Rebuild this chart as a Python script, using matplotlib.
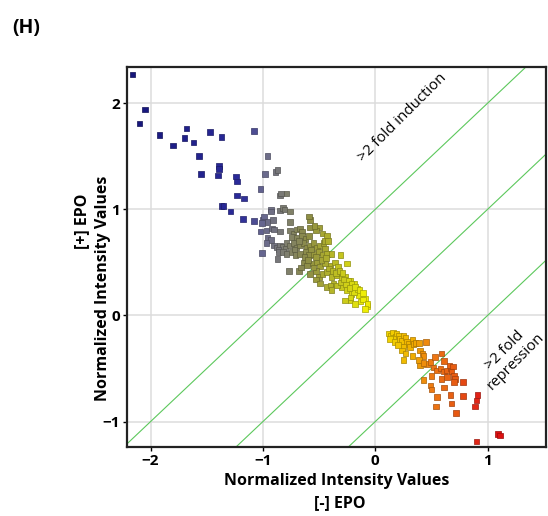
import numpy as np
import matplotlib
matplotlib.use("Agg")
import matplotlib.pyplot as plt
from matplotlib.colors import LinearSegmentedColormap, Normalize

plt.rcParams['font.family'] = ['Open Sans', 'DejaVu Sans']

# grupos de puntos (x = [-] EPO, y = [+] EPO)
azul = [(-2.16, 2.27), (-2.05, 1.94), (-2.10, 1.81), (-1.92, 1.70), (-1.80, 1.60), (-1.68, 1.76),
        (-1.70, 1.67), (-1.62, 1.63), (-1.57, 1.50), (-1.55, 1.33), (-1.47, 1.73), (-1.37, 1.68),
        (-1.39, 1.41), (-1.39, 1.38), (-1.40, 1.32), (-1.24, 1.31), (-1.23, 1.26), (-1.23, 1.13),
        (-1.17, 1.10), (-1.37, 1.03), (-1.35, 1.03), (-1.29, 0.98), (-1.18, 0.91), (-1.08, 0.89)]

gris = [(-1.08, 1.74), (-0.96, 1.50), (-0.98, 1.33), (-0.89, 1.35), (-0.87, 1.37), (-1.02, 1.19),
        (-0.85, 1.13), (-0.84, 1.15), (-0.79, 1.15), (-0.93, 1.00), (-0.93, 0.98), (-0.85, 0.99),
        (-0.82, 1.01), (-0.81, 1.00), (-0.76, 0.98), (-1.00, 0.90), (-0.99, 0.93), (-1.01, 0.87),
        (-0.96, 0.88), (-0.91, 0.90), (-1.02, 0.79), (-0.97, 0.80), (-0.92, 0.82), (-0.90, 0.81),
        (-0.85, 0.79), (-0.76, 0.88), (-0.96, 0.73), (-0.93, 0.71), (-0.97, 0.68), (-0.90, 0.66),
        (-0.88, 0.64), (-0.85, 0.66), (-0.82, 0.65), (-0.80, 0.63), (-0.86, 0.62), (-1.01, 0.59),
        (-0.87, 0.53), (-0.86, 0.60), (-0.82, 0.60)]

oliva = [(-0.76, 0.80), (-0.73, 0.77), (-0.70, 0.81), (-0.67, 0.82), (-0.65, 0.79), (-0.74, 0.74),
         (-0.70, 0.73), (-0.65, 0.75), (-0.62, 0.72), (-0.59, 0.75), (-0.58, 0.90), (-0.50, 0.83),
         (-0.53, 0.80), (-0.47, 0.77), (-0.43, 0.75), (-0.58, 0.83), (-0.59, 0.93), (-0.54, 0.84),
         (-0.79, 0.68), (-0.76, 0.66), (-0.73, 0.68), (-0.70, 0.64), (-0.67, 0.66), (-0.64, 0.68),
         (-0.61, 0.64), (-0.58, 0.66), (-0.55, 0.68), (-0.52, 0.64), (-0.49, 0.66), (-0.46, 0.68),
         (-0.45, 0.63), (-0.45, 0.70), (-0.42, 0.70),
         (-0.79, 0.58), (-0.74, 0.60), (-0.71, 0.57), (-0.67, 0.58), (-0.62, 0.60), (-0.59, 0.57),
         (-0.55, 0.58), (-0.50, 0.60), (-0.47, 0.57), (-0.43, 0.58), (-0.39, 0.58), (-0.31, 0.57),
         (-0.25, 0.49),
         (-0.77, 0.42), (-0.68, 0.42), (-0.64, 0.50), (-0.61, 0.47), (-0.56, 0.49), (-0.52, 0.50),
         (-0.49, 0.46), (-0.53, 0.42), (-0.45, 0.49), (-0.40, 0.47), (-0.36, 0.50), (-0.33, 0.46),
         (-0.58, 0.39), (-0.50, 0.36), (-0.47, 0.39), (-0.43, 0.41), (-0.39, 0.36), (-0.34, 0.38),
         (-0.30, 0.35), (-0.27, 0.36), (-0.22, 0.33), (-0.19, 0.30), (-0.37, 0.30), (-0.30, 0.27),
         (-0.43, 0.27), (-0.25, 0.24), (-0.21, 0.20), (-0.16, 0.22), (-0.12, 0.19), (-0.09, 0.16),
         (-0.22, 0.14), (-0.18, 0.11), (-0.13, 0.13), (-0.07, 0.09),
         (-0.15, 0.19), (-0.11, 0.15), (-0.07, 0.11), (-0.09, 0.06), (-0.22, 0.17), (-0.27, 0.14),
         (-0.19, 0.22), (-0.16, 0.25), (-0.34, 0.28), (-0.31, 0.31), (-0.28, 0.34), (-0.24, 0.33),
         (-0.21, 0.30), (-0.40, 0.28), (-0.39, 0.24), (-0.53, 0.34), (-0.49, 0.30),
         (-0.72, 0.62), (-0.68, 0.70), (-0.63, 0.55), (-0.57, 0.62), (-0.53, 0.55), (-0.48, 0.52),
         (-0.44, 0.54), (-0.41, 0.44), (-0.38, 0.42), (-0.35, 0.40), (-0.32, 0.42), (-0.29, 0.40),
         (-0.26, 0.29), (-0.23, 0.26), (-0.18, 0.27), (-0.14, 0.24), (-0.11, 0.21), (-0.66, 0.45),
         (-0.60, 0.52), (-0.55, 0.45)]

naranja = [(0.12, -0.17), (0.14, -0.19), (0.16, -0.16), (0.18, -0.20), (0.19, -0.17), (0.21, -0.19),
           (0.22, -0.22), (0.24, -0.24), (0.25, -0.19), (0.27, -0.21), (0.28, -0.25), (0.30, -0.27),
           (0.31, -0.30), (0.33, -0.23), (0.34, -0.27), (0.36, -0.26), (0.39, -0.26), (0.45, -0.25),
           (0.25, -0.30), (0.24, -0.33), (0.27, -0.36), (0.33, -0.38), (0.25, -0.42), (0.40, -0.33),
           (0.42, -0.36), (0.43, -0.38), (0.39, -0.42), (0.40, -0.47), (0.13, -0.22), (0.17, -0.25),
           (0.20, -0.28),
           (0.46, -0.46), (0.49, -0.44), (0.52, -0.49), (0.55, -0.52), (0.58, -0.50), (0.61, -0.53),
           (0.64, -0.52), (0.67, -0.50), (0.68, -0.53), (0.70, -0.57), (0.71, -0.60), (0.64, -0.58),
           (0.59, -0.60), (0.43, -0.61), (0.50, -0.57), (0.70, -0.63), (0.43, -0.45), (0.59, -0.36),
           (0.61, -0.43), (0.53, -0.39), (0.66, -0.47), (0.69, -0.48),
           (0.49, -0.66), (0.50, -0.70), (0.55, -0.77), (0.61, -0.68), (0.67, -0.75), (0.68, -0.83),
           (0.72, -0.92), (0.78, -0.63), (0.78, -0.76), (0.54, -0.86)]

rojo = [(0.91, -0.75), (0.90, -0.80), (0.89, -0.86), (0.90, -1.19), (1.09, -1.12), (1.11, -1.13)]

# lineas de referencia: y = x + d
desplazamientos = [1, 0, -1]


def main():
    puntos = np.array(azul + gris + oliva + naranja + rojo)
    x = puntos[:, 0]
    y = puntos[:, 1]

    # Colores segun el valor [-] EPO
    nodos = [(0.0, '#15157a'), (0.303, '#2b2b9a'), (0.364, '#68688e'), (0.424, '#7e7e70'),
             (0.485, '#8e8e46'), (0.561, '#bdbd22'), (0.636, '#eeee05'), (0.712, '#f2d000'),
             (0.773, '#f0aa00'), (0.818, '#ee7a12'), (0.894, '#e65412'), (0.955, '#e01818'),
             (1.0, '#dd1010')]
    cmap = LinearSegmentedColormap.from_list('epo', nodos)
    colores = cmap(Normalize(-2.2, 1.1)(x))
    bordes = colores.copy()
    bordes[:, :3] *= 0.7

    fig = plt.figure(figsize=(5.48, 5.16), dpi=100)
    ax = fig.add_axes([0.2318, 0.1337, 0.7646, 0.7363])

    xlim = (-2.21, 1.52)
    ylim = (-1.24, 2.34)
    xs = np.array(xlim)
    for d in desplazamientos:
        ax.plot(xs, xs + d, color='#5cc85c', lw=0.8, zorder=2)

    ax.scatter(x, y, marker='s', s=16, c=colores, edgecolors=bordes, linewidths=0.5, zorder=3)

    ax.set_xlim(xlim)
    ax.set_ylim(ylim)
    ax.set_xticks([-2, -1, 0, 1])
    ax.set_yticks([-1, 0, 1, 2])
    ax.grid(True, color='#dcdcdc', lw=1.1, zorder=0)
    ax.set_axisbelow(True)
    for sp in ax.spines.values():
        sp.set_linewidth(1.6)
        sp.set_color('#222222')
    ax.tick_params(length=3, width=1, labelsize=11, pad=2)
    for lbl in ax.get_xticklabels() + ax.get_yticklabels():
        lbl.set_fontweight('bold')

    ax.text(0.24, 1.86, '>2 fold induction', rotation=45, ha='center', va='center',
            fontsize=10.8, rotation_mode='anchor')
    ax.text(1.20, -0.38, '>2 fold\nrepression', rotation=45, ha='center', va='center',
            fontsize=10.8, rotation_mode='anchor', multialignment='center', linespacing=1.05)

    # etiquetas de los ejes
    fig.text(0.614, 0.068, 'Normalized Intensity Values', ha='center', va='center',
             fontsize=11.5, fontweight='bold')
    fig.text(0.620, 0.025, '[-] EPO', ha='center', va='center', fontsize=11.5, fontweight='bold')
    fig.text(0.188, 0.442, 'Normalized Intensity Values', ha='center', va='center',
             fontsize=11.5, fontweight='bold', rotation=90)
    fig.text(0.150, 0.572, '[+] EPO', ha='center', va='center', fontsize=11.5,
             fontweight='bold', rotation=90)

    fig.text(0.022, 0.946, '(H)', ha='left', va='center', fontsize=14, fontweight='bold')

    fig.savefig('out.png', dpi=100)


if __name__ == "__main__":
    main()
